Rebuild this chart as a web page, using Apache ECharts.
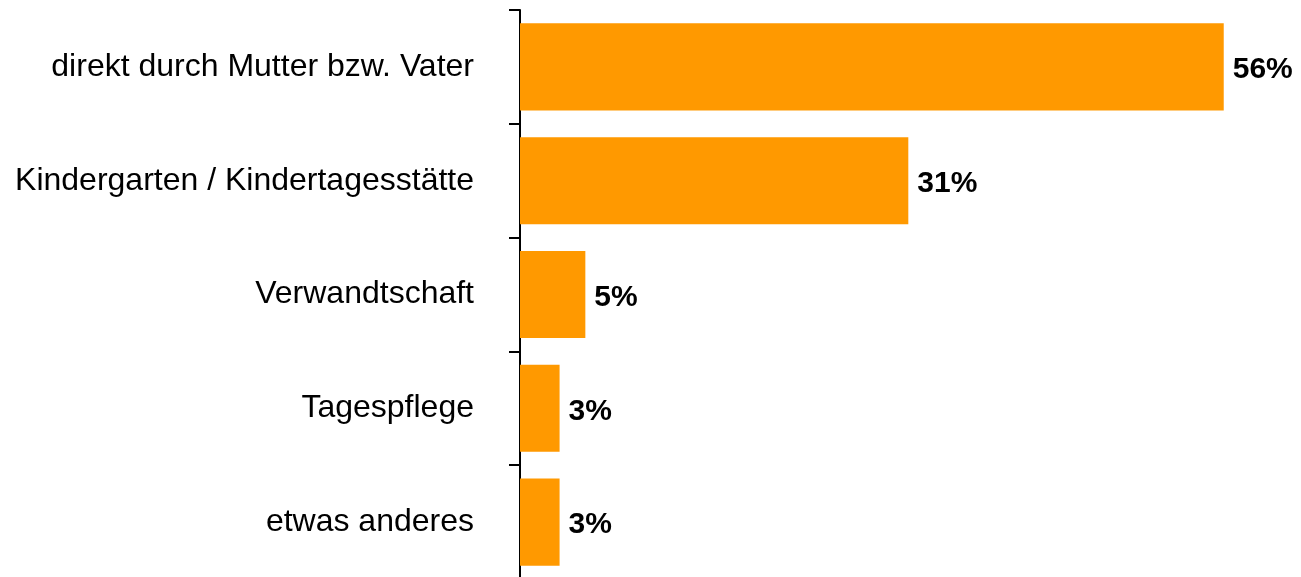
<!DOCTYPE html>
<html>
<head>
<meta charset="utf-8">
<script src="https://cdn.jsdelivr.net/npm/echarts@6/dist/echarts.min.js"></script>
<style>
html,body{margin:0;padding:0;background:#fff;overflow:hidden;width:1301px;height:577px;}
#chart{width:1301px;height:590px;}
</style>
</head>
<body>
<div id="chart"></div>
<script>
const categories = [
  "direkt durch Mutter bzw. Vater",
  "Kindergarten / Kindertagesstätte",
  "Verwandtschaft",
  "Tagespflege",
  "etwas anderes"
];
const values = [56, 30.9, 5.2, 3.15, 3.15];
const valueLabels = ["56%", "31%", "5%", "3%", "3%"];

const chart = echarts.init(document.getElementById('chart'), null, {renderer: 'canvas'});
chart.setOption({
  animation: false,
  grid: {left: 520, width: 754, top: 10, height: 569, containLabel: false},
  xAxis: {
    type: 'value', min: 0, max: 60, show: false,
    splitLine: {show: false}
  },
  yAxis: {
    type: 'category', data: categories, inverse: true,
    axisLine: {show: true, lineStyle: {color: '#000', width: 2}},
    axisTick: {show: true, length: 11, lineStyle: {color: '#000', width: 2}},
    axisLabel: {
      margin: 46, color: '#000', fontSize: 32,
      fontFamily: '"Liberation Sans", Arial, sans-serif'
    }
  },
  series: [{
    type: 'bar', data: values, barCategoryGap: '23.5%',
    itemStyle: {color: '#FF9900'},
    label: {
      show: true, position: 'right', distance: 9, offset: [0, 3],
      color: '#000', fontSize: 30, fontWeight: 'bold',
      fontFamily: '"Liberation Sans", Arial, sans-serif',
      formatter: p => valueLabels[p.dataIndex]
    }
  }]
});
</script>
</body>
</html>
